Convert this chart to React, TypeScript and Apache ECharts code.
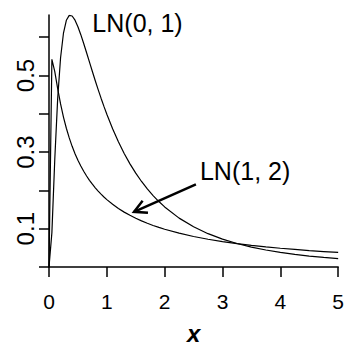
import React, { useEffect, useRef } from "react";
import * as echarts from "echarts";

const xValues = [0, 0.05, 0.1, 0.15, 0.2, 0.25, 0.3, 0.35, 0.4, 0.45, 0.5, 0.55, 0.6, 0.65, 0.7, 0.75, 0.8, 0.85, 0.9, 0.95, 1.0, 1.1, 1.2, 1.3, 1.4, 1.5, 1.6, 1.7, 1.8, 1.9, 2.0, 2.25, 2.5, 2.75, 3.0, 3.25, 3.5, 3.75, 4.0, 4.25, 4.5, 4.75, 5.0];
const ln01 = [0, 0.0898, 0.2816, 0.4397, 0.5463, 0.6104, 0.6442, 0.6569, 0.6554, 0.6445, 0.6275, 0.6066, 0.5836, 0.5594, 0.5348, 0.5104, 0.4864, 0.4632, 0.4408, 0.4194, 0.3989, 0.361, 0.327, 0.2965, 0.2693, 0.245, 0.2233, 0.2039, 0.1865, 0.1709, 0.1569, 0.1276, 0.1049, 0.087, 0.0727, 0.0613, 0.052, 0.0444, 0.0382, 0.033, 0.0286, 0.0249, 0.0219];
const ln12 = [0, 0.5422, 0.5102, 0.4657, 0.4258, 0.3916, 0.3623, 0.3371, 0.3151, 0.2959, 0.2788, 0.2636, 0.2499, 0.2376, 0.2264, 0.2162, 0.2068, 0.1982, 0.1902, 0.1829, 0.176, 0.1637, 0.1529, 0.1433, 0.1349, 0.1272, 0.1204, 0.1141, 0.1085, 0.1033, 0.0986, 0.0883, 0.0797, 0.0725, 0.0664, 0.0611, 0.0565, 0.0525, 0.0489, 0.0458, 0.0429, 0.0404, 0.0381];

const yTicks = [0, 0.1, 0.2, 0.3, 0.4, 0.5, 0.6];
const yLabels = [0.1, 0.3, 0.5];
const xTicks = [0, 1, 2, 3, 4, 5];

const label01 = { text: "LN(0, 1)", x: 0.75, y: 0.637 };
const label12 = { text: "LN(1, 2)", x: 2.61, y: 0.25 };
const arrowFrom = [2.54, 0.216];
const arrowTo = [1.47, 0.144];

const FONT = '"Liberation Sans", Arial, Helvetica, sans-serif';

export default function App() {
  const ref = useRef<HTMLDivElement>(null);
  useEffect(() => {
    if (!ref.current) return;
    document.body.style.margin = "0";
    const chart = echarts.init(ref.current, null, { renderer: "svg" });
    const axisLine = { show: true, lineStyle: { color: "#000", width: 1.5 } };
    const axisTick = { show: true, length: 10, lineStyle: { color: "#000", width: 1.5 } };
    chart.setOption({
      animation: false,
      grid: { left: 49, right: 6, top: 15, bottom: 82 },
      xAxis: {
        type: "value",
        min: 0,
        max: 5,
        interval: 1,
        axisLine,
        axisTick: { ...axisTick, customValues: xTicks },
        axisLabel: { color: "#000", fontSize: 21, fontFamily: FONT, margin: 24, customValues: xTicks },
        splitLine: { show: false },
        name: "x",
        nameLocation: "middle",
        nameGap: 54,
        nameTextStyle: { color: "#000", fontSize: 24, fontStyle: "italic", fontWeight: "bold", fontFamily: FONT },
      },
      yAxis: {
        type: "value",
        min: 0,
        max: 0.658,
        axisLine,
        axisTick: { ...axisTick, customValues: yTicks },
        axisLabel: {
          color: "#000",
          fontSize: 24,
          fontFamily: FONT,
          rotate: 90,
          margin: 12,
          customValues: yLabels,
          formatter: (v: number) => v.toFixed(1),
        },
        splitLine: { show: false },
      },
      series: [
        {
          type: "line",
          data: xValues.map((x, i) => [x, ln01[i]]),
          showSymbol: false,
          lineStyle: { color: "#000", width: 1.2 },
        },
        {
          type: "line",
          data: xValues.map((x, i) => [x, ln12[i]]),
          showSymbol: false,
          lineStyle: { color: "#000", width: 1.2 },
        },
      ],
    });

    const p = (pt: number[]) => chart.convertToPixel({ seriesIndex: 0 }, pt) as number[];
    const l1 = p([label01.x, label01.y]);
    const l2 = p([label12.x, label12.y]);
    const a0 = p(arrowFrom);
    const a1 = p(arrowTo);
    const dx = a0[0] - a1[0];
    const dy = a0[1] - a1[1];
    const len = Math.sqrt(dx * dx + dy * dy);
    const ux = dx / len;
    const uy = dy / len;
    const headLen = 14;
    const ang = (28 * Math.PI) / 180;
    const rot = (x: number, y: number, a: number) => [x * Math.cos(a) - y * Math.sin(a), x * Math.sin(a) + y * Math.cos(a)];
    const h1 = rot(ux, uy, ang);
    const h2 = rot(ux, uy, -ang);
    chart.setOption({
      graphic: [
        {
          type: "text",
          x: l1[0],
          y: l1[1],
          style: { text: label01.text, font: `25px ${FONT}`, fill: "#000", align: "left", verticalAlign: "middle" },
        },
        {
          type: "text",
          x: l2[0],
          y: l2[1],
          style: { text: label12.text, font: `25px ${FONT}`, fill: "#000", align: "left", verticalAlign: "middle" },
        },
        {
          type: "line",
          shape: { x1: a0[0], y1: a0[1], x2: a1[0], y2: a1[1] },
          style: { stroke: "#000", lineWidth: 2.5 },
        },
        {
          type: "polyline",
          shape: {
            points: [
              [a1[0] + h1[0] * headLen, a1[1] + h1[1] * headLen],
              [a1[0], a1[1]],
              [a1[0] + h2[0] * headLen, a1[1] + h2[1] * headLen],
            ],
          },
          style: { stroke: "#000", lineWidth: 2.5, fill: "none" },
        },
      ],
    });
    return () => chart.dispose();
  }, []);
  return <div ref={ref} style={{ width: 347, height: 350 }} />;
}
